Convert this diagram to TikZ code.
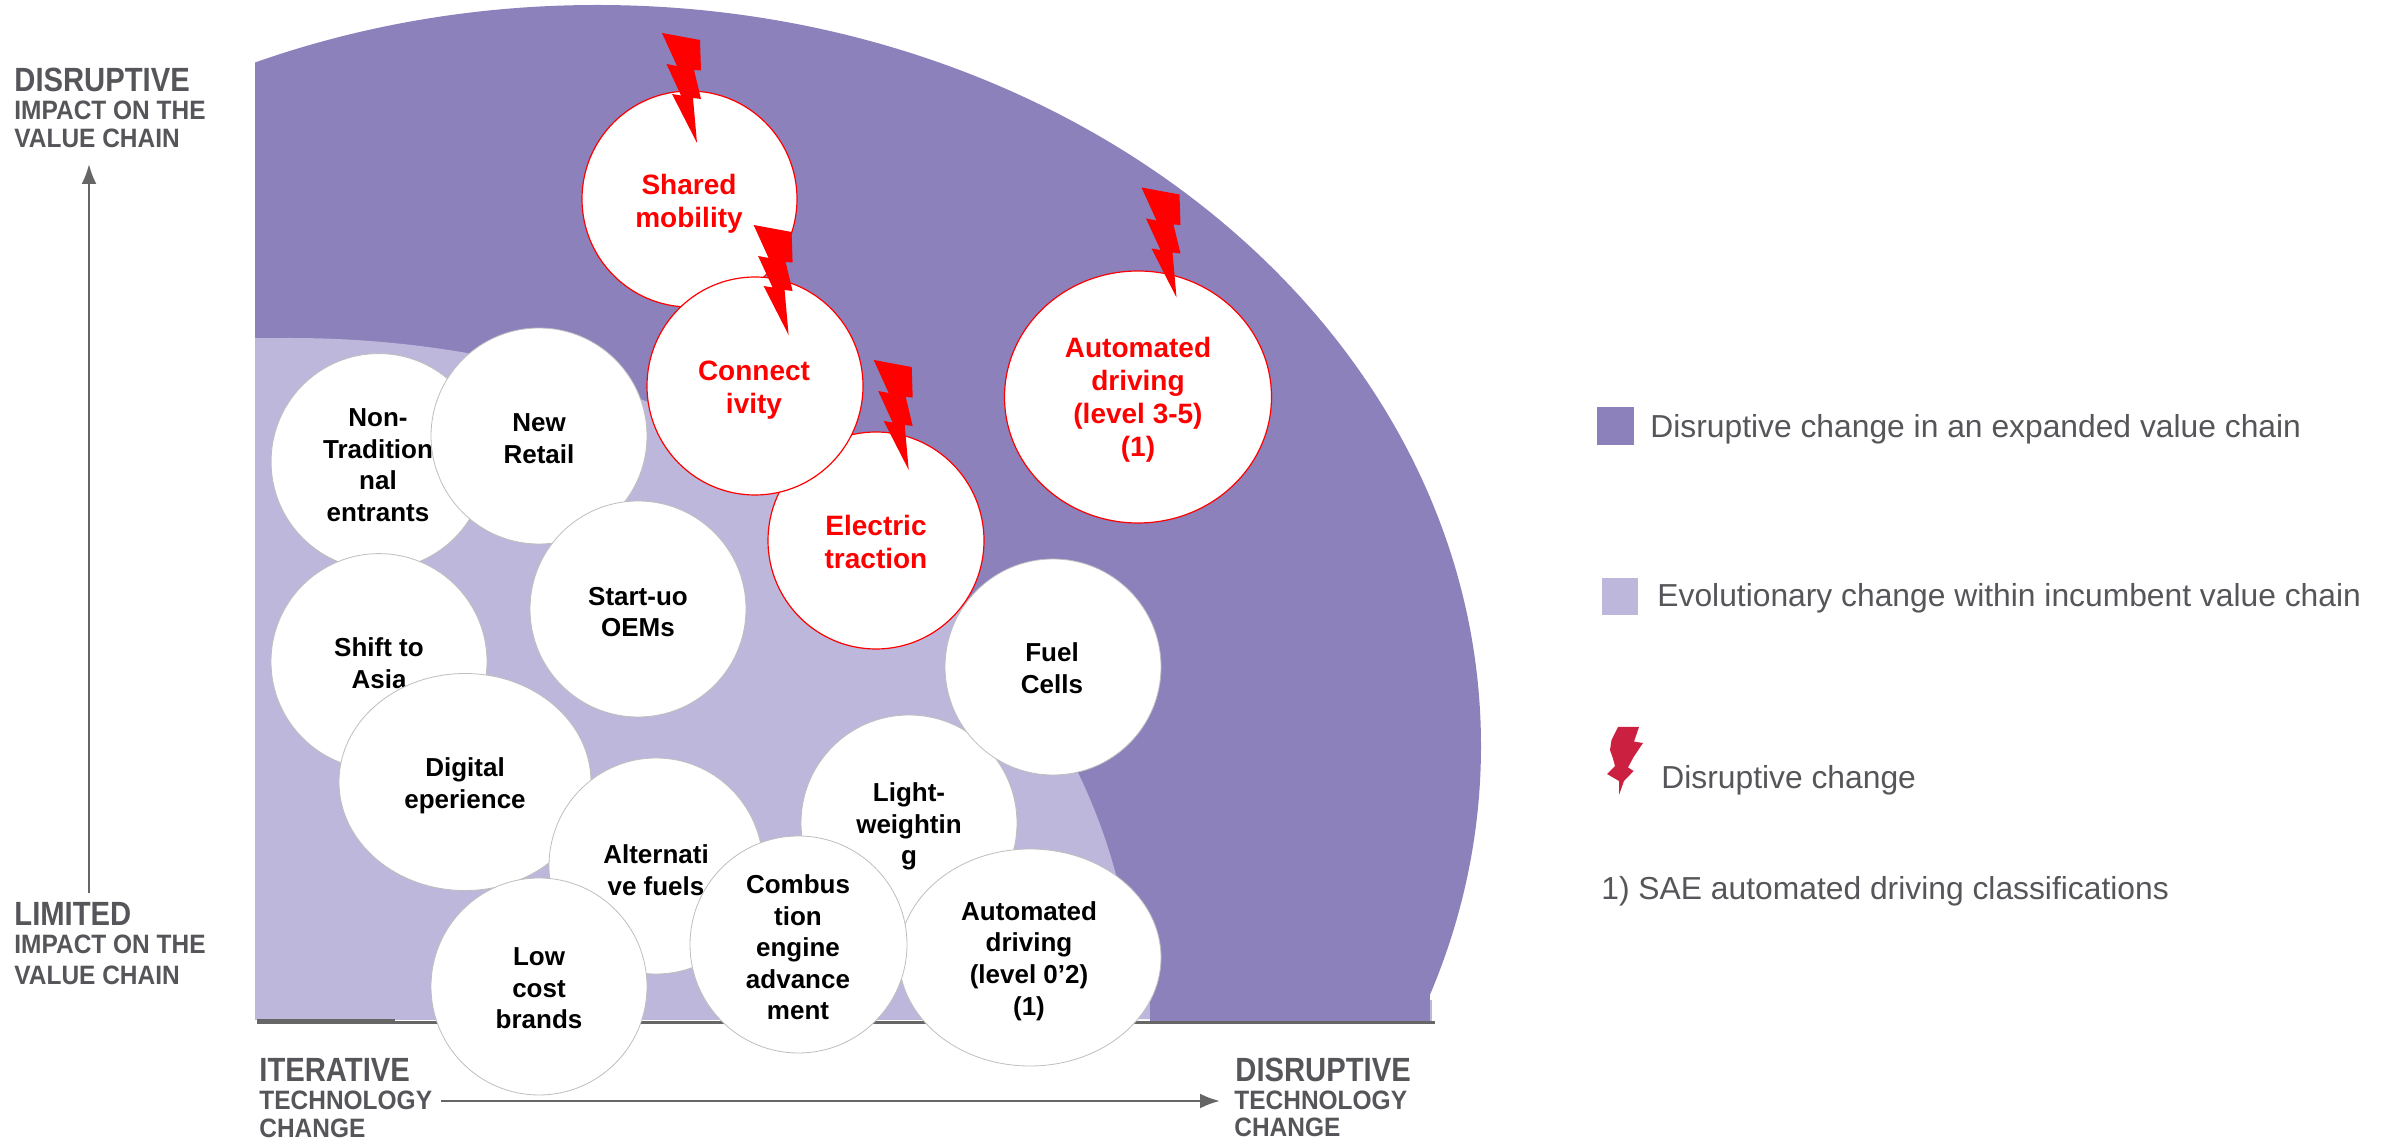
\documentclass[tikz,border=0pt]{standalone}
\usepackage{fontspec}
\setmainfont{Liberation Sans}
\newfontfamily\axisfonthead[FakeStretch=0.87]{Liberation Sans}
\newfontfamily\axisfontsub[FakeStretch=0.92]{Liberation Sans}
\usetikzlibrary{shapes.geometric,arrows.meta}
\definecolor{darkzone}{HTML}{8C81BB}
\definecolor{lightzone}{HTML}{BDB7DB}
\definecolor{axisgray}{HTML}{666666}
\definecolor{labelgray}{HTML}{56565A}
\definecolor{edgegray}{HTML}{BEBEBE}
\definecolor{legendbolt}{HTML}{CC2040}
\tikzset{
  x=0.5pt,y=-0.5pt,
  blackbub/.style={shape=ellipse,draw=edgegray,line width=0.4pt,fill=white,inner sep=0pt,outer sep=0pt},
  redbub/.style={shape=ellipse,draw=red,line width=0.6pt,fill=white,inner sep=0pt,outer sep=0pt},
  blacktxt/.style={align=center,inner sep=0pt,text=black,font=\fontsize{13}{15.8}\selectfont\bfseries},
  redtxt/.style={align=center,inner sep=0pt,text=red,font=\fontsize{14}{16.5}\selectfont\bfseries},
  axishead/.style={anchor=base west,inner sep=0pt,text=labelgray,font=\axisfonthead\fontsize{16.8}{18}\selectfont\bfseries},
  axissub/.style={anchor=base west,inner sep=0pt,text=labelgray,font=\axisfontsub\fontsize{13.3}{15}\selectfont\bfseries},
  legendtxt/.style={anchor=base west,inner sep=0pt,text=labelgray,font=\fontsize{15.9}{18}\selectfont},
  axisarrow/.style={draw=axisgray,line width=1.25pt,-{Latex[length=10pt,width=7.5pt]}},
  boltshape/.style={fill=red}
}
\newcommand{\bub}[8]{%
  \node[#1bub,minimum width=#5*0.5pt,minimum height=#6*0.5pt] (#2) at (#3,#4) {};
  \node[#1txt] (#2txt) at (#7,#8) {\csname bubtext#2\endcsname};}
\newcommand{\boltat}[2]{%
  \fill[boltshape,shift={(#1,#2)}] (0,0) -- (38,7) -- (39,37.5) -- (32,37) -- (39,66) -- (31,65) -- (35,110) -- (10,61) -- (19,62.5) -- (4.5,31) -- (15,33) -- cycle;}
\newcommand{\bubtextshared}{Shared\\mobility}
\newcommand{\bubtextelectric}{Electric\\traction}
\newcommand{\bubtextconnect}{Connect\\ivity}
\newcommand{\bubtextautohigh}{Automated\\driving\\(level 3-5)\\(1)}
\newcommand{\bubtextnontrad}{Non-\\Tradition\\nal\\entrants}
\newcommand{\bubtextretail}{New\\Retail}
\newcommand{\bubtextstartup}{Start-uo\\OEMs}
\newcommand{\bubtextasia}{Shift to\\Asia}
\newcommand{\bubtextdigital}{Digital\\eperience}
\newcommand{\bubtextfuels}{Alternati\\ve fuels}
\newcommand{\bubtextlight}{Light-\\weightin\\g}
\newcommand{\bubtextcells}{Fuel\\Cells}
\newcommand{\bubtextautolow}{Automated\\driving\\(level 0’2)\\(1)}
\newcommand{\bubtextcombust}{Combus\\tion\\engine\\advance\\ment}
\newcommand{\bubtextlow}{Low\\cost\\brands}
\begin{document}
\begin{tikzpicture}
\useasboundingbox (0,0) rectangle (2384,1143);
% zones
\begin{scope}
  \clip (255,0) -- (1500,0) -- (1500,995) -- (1432,1000) -- (1432,1019) -- (255,1019) -- cycle;
  \fill[darkzone] (597,746) ellipse [x radius=884,y radius=741];
  \fill[darkzone] (1400,990) rectangle (1430,1021);
\end{scope}
\fill[lightzone] (1430,1000) rectangle (1432,1021);
\begin{scope}
  \clip (255,0) rectangle (1150,1019);
  \fill[lightzone] (290,1019) ellipse [x radius=845,y radius=681];
  \fill[lightzone] (255,338) rectangle (290,1019);
  \fill[lightzone] (1120,999) rectangle (1150,1019);
\end{scope}
\fill[darkzone] (1150,1018) rectangle (1430,1021);
% base axis
\coordinate (baseA) at (257,1022.5);
\coordinate (baseB) at (1435,1022.5);
\coordinate (baseC) at (395,1021.5);
\coordinate (baseD) at (257,1021.5);
\draw[axisgray,line width=1.5pt] (baseA) -- (baseB);
\draw[axisgray,line width=2.5pt] (baseD) -- (baseC);
% arrows
\coordinate (vA) at (89,893);
\coordinate (vB) at (89,164);
\coordinate (hA) at (441,1101);
\coordinate (hB) at (1220,1101);
\draw[axisarrow] (vA) -- (vB);
\draw[axisarrow] (hA) -- (hB);
% axis labels
\node[axishead] (tl1) at (14,92) {DISRUPTIVE};
\node[axissub] (tl2) at (14,120) {IMPACT ON THE};
\node[axissub] (tl3) at (14,147.5) {VALUE CHAIN};
\node[axishead] (ll1) at (14,926) {LIMITED};
\node[axissub] (ll2) at (14,954) {IMPACT ON THE};
\node[axissub] (ll3) at (14,984.5) {VALUE CHAIN};
\node[axishead] (il1) at (259,1081.6) {ITERATIVE};
\node[axissub] (il2) at (259,1109.5) {TECHNOLOGY};
\node[axissub] (il3) at (259,1137) {CHANGE};
\node[axishead] (dl1) at (1235,1081.6) {DISRUPTIVE};
\node[axissub] (dl2) at (1234,1109.5) {TECHNOLOGY};
\node[axissub] (dl3) at (1234,1136) {CHANGE};
% red bubbles
\bub{red}{shared}{689.5}{199}{215}{216}{689}{203.5}
\bub{red}{electric}{876}{540.5}{216}{217}{876}{542}
\bub{red}{connect}{755}{386}{216}{218}{754}{390}
\bub{red}{autohigh}{1138}{397}{267}{252}{1138}{400}
% black bubbles
\bub{black}{nontrad}{378.6}{461.6}{215}{216}{378}{465}
\bub{black}{retail}{539}{436}{216}{216}{539}{438.5}
\bub{black}{asia}{379}{661.6}{216}{216}{379}{663}
\bub{black}{startup}{638}{609}{216}{216}{638}{612}
\bub{black}{digital}{465}{782}{252}{217}{465}{786}
\bub{black}{fuels}{656}{866}{214}{216}{656}{870}
\bub{black}{light}{909}{823}{216}{216}{909}{826.5}
\bub{black}{cells}{1053}{667}{216}{216}{1052}{668}
\bub{black}{autolow}{1030}{957.5}{262}{217}{1029}{961}
\bub{black}{combust}{798.5}{944.5}{217}{217}{798}{947.5}
\bub{black}{low}{539}{986.5}{216}{217}{539}{988.5}
% bolts
\boltat{662}{33}
\boltat{753.6}{225}
\boltat{873.7}{360}
\boltat{1141.5}{187.5}
% legend
\fill[darkzone] (1597,407.5) rectangle (1634,445);
\node[legendtxt] (leg1) at (1650,438) {Disruptive change in an expanded value chain};
\fill[lightzone] (1602,578) rectangle (1638,615);
\node[legendtxt] (leg2) at (1657,607) {Evolutionary change within incumbent value chain};
\fill[legendbolt] (1618,727) -- (1639,727) -- (1634,741.6) -- (1643,743) -- (1633.6,757) -- (1628,767.4) -- (1633.6,771) -- (1624,781) -- (1619,795) -- (1619,781) -- (1607,774) -- (1615,766) -- (1612.5,757) -- (1610,750) -- (1611.5,740) -- cycle;
\node[legendtxt] (leg3) at (1661,788.5) {Disruptive change};
\node[legendtxt] (leg4) at (1601,900) {1) SAE automated driving classifications};
\end{tikzpicture}
\end{document}
